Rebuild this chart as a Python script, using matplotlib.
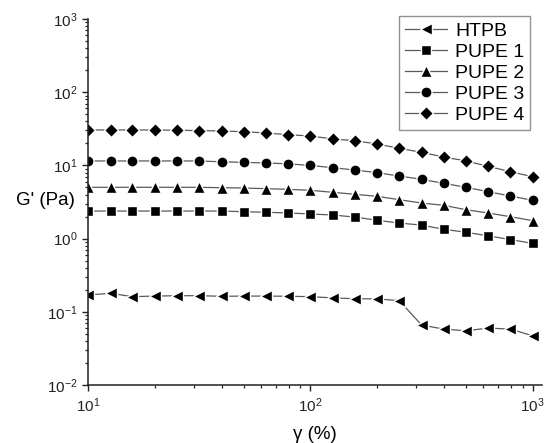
import numpy as np
import matplotlib
matplotlib.use("Agg")
import matplotlib.pyplot as plt

plt.rcParams['font.family'] = ['Liberation Sans', 'DejaVu Sans']
plt.rcParams['mathtext.default'] = 'regular'

# strain amplitude (%), 21 points per decade sweep
strain = [10.0, 12.6, 15.8, 20.0, 25.1, 31.6, 39.8, 50.1, 63.1, 79.4, 100.0,
          125.9, 158.5, 199.5, 251.2, 316.2, 398.1, 501.2, 631.0, 794.3, 1000.0]

# storage modulus G' (Pa)
htpb = [0.170, 0.179, 0.161, 0.164, 0.166, 0.166, 0.163, 0.164, 0.164, 0.163, 0.161,
        0.155, 0.151, 0.150, 0.142, 0.066, 0.058, 0.055, 0.060, 0.058, 0.047]
pupe1 = [2.38, 2.38, 2.38, 2.38, 2.38, 2.38, 2.38, 2.33, 2.29, 2.24, 2.17,
         2.10, 1.97, 1.78, 1.63, 1.53, 1.34, 1.22, 1.09, 0.97, 0.86]
pupe2 = [5.02, 5.02, 5.02, 5.02, 5.02, 5.02, 4.96, 4.91, 4.81, 4.71, 4.57,
         4.29, 4.03, 3.78, 3.40, 3.06, 2.85, 2.48, 2.24, 1.99, 1.76]
pupe3 = [11.5, 11.5, 11.5, 11.5, 11.5, 11.5, 11.2, 11.0, 10.8, 10.5, 10.0,
         9.3, 8.65, 7.95, 7.16, 6.45, 5.69, 5.02, 4.37, 3.82, 3.33]
pupe4 = [30.5, 30.5, 30.5, 30.5, 30.2, 29.9, 29.5, 28.9, 27.7, 26.3, 25.2,
         23.0, 21.7, 19.6, 17.1, 15.1, 13.0, 11.5, 9.7, 8.2, 7.0]

series = [(htpb, '<', 'HTPB'), (pupe1, 's', 'PUPE 1'), (pupe2, '^', 'PUPE 2'),
          (pupe3, 'o', 'PUPE 3'), (pupe4, 'D', 'PUPE 4')]
msizes = {'<': 8, 's': 7, '^': 8, 'o': 8, 'D': 7}

fig = plt.figure(figsize=(5.47, 4.43), dpi=100)
ax = fig.add_axes([0.1614, 0.1309, 0.8289, 0.8262])

for vals, mk, name in series:
    ax.plot(strain, vals, color='#5a5a5a', lw=0.9, marker=mk, ms=msizes[mk],
            mfc='black', mec='white', mew=1.0, label=name)

ax.set_xscale('log')
ax.set_yscale('log')
ax.set_xlim(10, 1098)
ax.set_ylim(0.01, 1000)

for s in ['top', 'right']:
    ax.spines[s].set_visible(False)
for s in ['left', 'bottom']:
    ax.spines[s].set_linewidth(1.1)
    ax.spines[s].set_color('#222222')

ax.tick_params(which='major', direction='out', length=4.5, width=1.0, labelsize=11, colors='#222222')
ax.tick_params(which='minor', direction='out', length=2.5, width=0.9, colors='#222222')
ax.tick_params(axis='x', pad=4)
ax.tick_params(axis='y', pad=3)

ax.set_xlabel('γ (%)', fontsize=13.5)
ax.xaxis.set_label_coords(0.5, -0.135)
ax.xaxis.label.set_va('center')
ax.set_ylabel("G' (Pa)", fontsize=13.5, rotation=0)
ax.yaxis.set_label_coords(-0.094, 0.503)
ax.yaxis.label.set_va('center')
ax.yaxis.label.set_ha('center')

leg = ax.legend(loc='upper right', bbox_to_anchor=(0.975, 1.008), fontsize=14,
                frameon=True, fancybox=False, edgecolor='#777777',
                handlelength=2.2, handletextpad=0.4, labelspacing=0.18,
                borderpad=0.3, borderaxespad=0.0)
leg.get_frame().set_linewidth(1.0)

fig.savefig('out.png', dpi=100)
